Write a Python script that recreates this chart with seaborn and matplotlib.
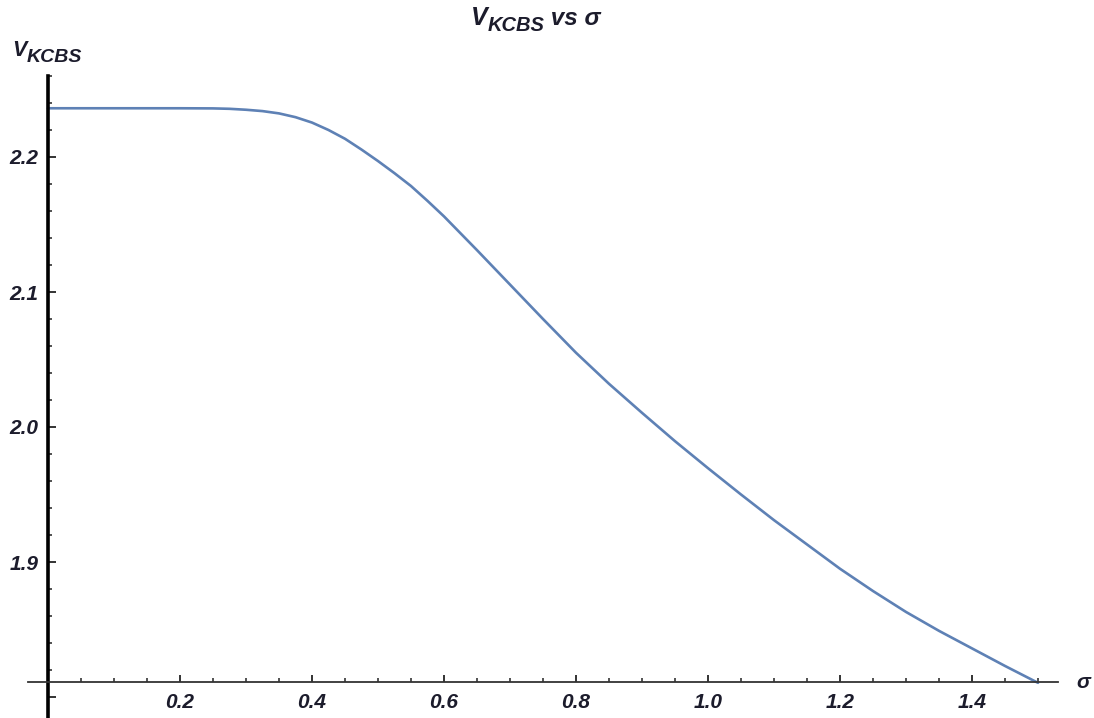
import numpy as np
import pandas as pd
import matplotlib
matplotlib.use("Agg")
import matplotlib.pyplot as plt
import seaborn as sns
from matplotlib.ticker import MultipleLocator, FixedLocator

# values
sigma = [0.00, 0.05, 0.10, 0.15, 0.20, 0.25, 0.275, 0.30, 0.325, 0.35, 0.375,
         0.40, 0.425, 0.45, 0.475, 0.50, 0.525, 0.55, 0.575, 0.60,
         0.65, 0.70, 0.75, 0.80, 0.85, 0.90, 0.95,
         1.00, 1.05, 1.10, 1.15, 1.20, 1.25, 1.30, 1.35, 1.40, 1.45, 1.50]
v_kcbs = [2.2361, 2.2361, 2.2361, 2.2361, 2.2361, 2.2360, 2.2357, 2.2350, 2.2340, 2.2323, 2.2295,
          2.2255, 2.2200, 2.2135, 2.2055, 2.1970, 2.1880, 2.1785, 2.1675, 2.1560,
          2.1310, 2.1055, 2.0800, 2.0550, 2.0320, 2.0105, 1.9895,
          1.9695, 1.9500, 1.9310, 1.9130, 1.8950, 1.8785, 1.8630, 1.8490, 1.8360, 1.8230, 1.8105]
x_ticks = [0.2, 0.4, 0.6, 0.8, 1.0, 1.2, 1.4]
x_tick_labels = ["0.2", "0.4", "0.6", "0.8", "1.0", "1.2", "1.4"]
y_ticks = [1.8, 1.9, 2.0, 2.1, 2.2]
y_tick_labels = ["", "1.9", "2.0", "2.1", "2.2"]

df = pd.DataFrame({"sigma": sigma, "v": v_kcbs})

sns.set_theme(style="white")
plt.rcParams["font.family"] = ["Liberation Sans", "DejaVu Sans"]

W, H = 1094, 718
fig = plt.figure(figsize=(W / 100, H / 100), dpi=100)
ax = fig.add_axes([28 / W, 0, (1058 - 28) / W, (718 - 76) / H])

sns.lineplot(data=df, x="sigma", y="v", ax=ax, color="#5E81B5", linewidth=1.9)

ax.set_xlim(-20 / 660, 1010 / 660)
ax.set_ylim(2.0 - (718 - 427) / 1350, 2.0 + (427 - 76) / 1350)

for s in ["top", "right"]:
    ax.spines[s].set_visible(False)
ax.spines["left"].set_position(("data", 0))
ax.spines["bottom"].set_position(("data", 1.811))
ax.spines["left"].set_color("black")
ax.spines["left"].set_linewidth(2.6)
ax.spines["bottom"].set_color("#333333")
ax.spines["bottom"].set_linewidth(1.3)

ax.xaxis.set_major_locator(FixedLocator(x_ticks))
ax.set_xticklabels(x_tick_labels)
ax.xaxis.set_minor_locator(MultipleLocator(0.05))
ax.yaxis.set_major_locator(FixedLocator(y_ticks))
ax.set_yticklabels(y_tick_labels)
ax.yaxis.set_minor_locator(MultipleLocator(0.02))

lab_font = dict(fontsize=15, fontweight="bold", fontstyle="italic", color="#1c1c2c")
for lab in ax.get_xticklabels() + ax.get_yticklabels():
    lab.set_fontsize(15)
    lab.set_fontweight("bold")
    lab.set_fontstyle("italic")
    lab.set_color("#1c1c2c")

ax.tick_params(axis="x", which="major", direction="in", length=5, width=1.4,
               color="#333333", pad=8, bottom=True)
ax.tick_params(axis="x", which="minor", direction="in", length=3, width=1.2,
               color="#333333", bottom=True)
ax.tick_params(axis="y", which="major", direction="in", length=6, width=1.4,
               color="#333333", pad=7, left=True)
ax.tick_params(axis="y", which="minor", direction="in", length=3, width=1.2,
               color="#333333", left=True)
ax.set_xlabel("")
ax.set_ylabel("")

# sigma label at the right end of the x axis
ax.annotate("σ", xy=(1, 1.811), xycoords=("axes fraction", "data"),
            xytext=(13, 0), textcoords="offset points", ha="left", va="center",
            annotation_clip=False, **lab_font)

# y axis label V_KCBS
t1 = fig.text(12 / W, 1 - 61 / H, "V", fontsize=15.5, fontweight="bold",
              fontstyle="italic", color="#1c1c2c", ha="left", va="bottom")
ax.annotate("KCBS", xy=(1, 0), xycoords=t1, xytext=(0, -3.5),
            textcoords="offset points", ha="left", va="bottom",
            fontsize=14, fontweight="bold", fontstyle="italic",
            color="#1c1c2c", annotation_clip=False)

# title V_KCBS vs sigma
t2 = fig.text(471 / W, 1 - 30 / H, "V", fontsize=18, fontweight="bold",
              fontstyle="italic", color="#1c1c2c", ha="left", va="bottom")
t3 = ax.annotate("KCBS", xy=(1, 0), xycoords=t2, xytext=(0, -3.5),
                 textcoords="offset points", ha="left", va="bottom",
                 fontsize=14.5, fontweight="bold", fontstyle="italic",
                 color="#1c1c2c", annotation_clip=False)
ax.annotate(" vs σ", xy=(1, 0), xycoords=t3, xytext=(0, 3.5),
            textcoords="offset points", ha="left", va="bottom",
            fontsize=17.5, fontweight="bold", fontstyle="italic",
            color="#1c1c2c", annotation_clip=False)

fig.savefig("out.png", dpi=100)
